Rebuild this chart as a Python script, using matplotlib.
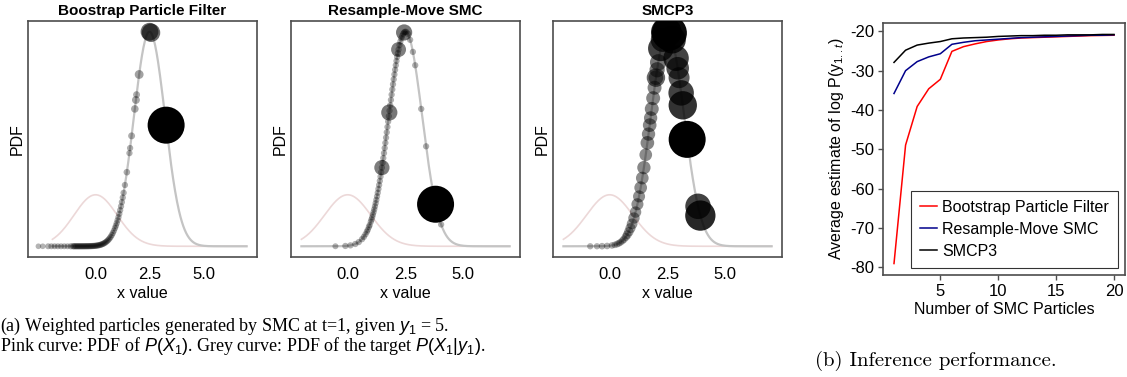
import numpy as np
import matplotlib.pyplot as plt

plt.rcParams['font.family'] = ['Liberation Sans', 'DejaVu Sans']
plt.rcParams['axes.unicode_minus'] = False
plt.rcParams['mathtext.fontset'] = 'custom'
plt.rcParams['mathtext.rm'] = 'Liberation Sans'
plt.rcParams['mathtext.it'] = 'Liberation Sans:italic'

# pdf curves: prior P(X1) (pink) and target P(X1|y1) (grey), peak heights relative
prior_mean, prior_sd, prior_peak = 0.0, 1.0, 0.24
target_mean, target_sd, target_peak = 2.5, 0.72, 1.0
curve_lo, curve_hi = -2.0, 7.0

titles = ['Boostrap Particle Filter', 'Resample-Move SMC', 'SMCP3']

# particle positions and (normalised) weights
boot_x = [-2.65, -2.45, -2.2, -2.05, -1.9, -1.75, -1.6, -1.45, -1.3, -1.15,
          -1.05, -1.0, -0.95, -0.9, -0.85, -0.8, -0.75, -0.7, -0.65, -0.6,
          -0.55, -0.5, -0.45, -0.4, -0.35, -0.3, -0.25, -0.2, -0.15, -0.1,
          -0.05, 0.0, 0.05, 0.1, 0.15, 0.2, 0.25, 0.3, 0.35, 0.4,
          0.45, 0.5, 0.55, 0.6, 0.65, 0.7, 0.75, 0.8, 0.85, 0.9,
          0.94, 0.98, 1.02, 1.06, 1.1, 1.14, 1.18, 1.22, 1.26, 1.3,
          1.36, 1.45, 1.57, 1.6, 1.67, 1.82, 1.87, 1.9, 2.02, 2.5,
          2.57, 3.27]
boot_w = [0.02, 0.02, 0.03, 0.03, 0.03, 0.03, 0.03, 0.03, 0.03, 0.04,
          0.04, 0.04, 0.04, 0.04, 0.04, 0.04, 0.04, 0.04, 0.04, 0.04,
          0.04, 0.04, 0.04, 0.04, 0.04, 0.04, 0.04, 0.04, 0.04, 0.04,
          0.04, 0.04, 0.04, 0.04, 0.04, 0.04, 0.04, 0.04, 0.04, 0.04,
          0.04, 0.04, 0.04, 0.04, 0.04, 0.04, 0.04, 0.04, 0.04, 0.04,
          0.04, 0.04, 0.04, 0.04, 0.04, 0.04, 0.04, 0.04, 0.04, 0.04,
          0.04, 0.05, 0.04, 0.04, 0.06, 0.08, 0.09, 0.06, 0.12, 0.4,
          0.42, 1.0]

rm_x = [-0.53, -0.1, 0.12, 0.33, 0.48, 0.62, 0.7, 0.77, 0.83, 0.87,
        0.92, 0.95, 1.0, 1.03, 1.06, 1.09, 1.12, 1.15, 1.18, 1.21,
        1.24, 1.27, 1.3, 1.33, 1.36, 1.39, 1.42, 1.45, 1.48, 1.51,
        1.54, 1.57, 1.6, 1.63, 1.66, 1.69, 1.72, 1.75, 1.78, 1.81,
        1.84, 1.87, 1.9, 1.93, 1.96, 1.99, 2.02, 2.05, 2.08, 2.11,
        2.14, 2.17, 2.2, 2.24, 2.28, 2.32, 2.36, 2.4, 2.44, 2.48,
        2.53, 2.6, 2.7, 2.82, 2.92, 3.18, 3.39, 4.04, 1.48, 1.8,
        2.2, 2.44, 3.8]
rm_w = [0.03, 0.04, 0.04, 0.04, 0.04, 0.04, 0.04, 0.04, 0.04, 0.04,
        0.04, 0.04, 0.04, 0.04, 0.04, 0.04, 0.04, 0.04, 0.04, 0.04,
        0.04, 0.04, 0.04, 0.04, 0.04, 0.04, 0.04, 0.04, 0.04, 0.04,
        0.04, 0.04, 0.04, 0.04, 0.04, 0.04, 0.04, 0.04, 0.04, 0.04,
        0.04, 0.04, 0.04, 0.04, 0.04, 0.04, 0.04, 0.04, 0.04, 0.04,
        0.04, 0.04, 0.04, 0.04, 0.04, 0.04, 0.04, 0.04, 0.04, 0.04,
        0.04, 0.04, 0.04, 0.04, 0.04, 0.04, 0.04, 0.04, 0.32, 0.35,
        0.31, 0.35, 1.0]

smc_x = [-0.84, -0.55, -0.33, -0.11, 0.1, 0.22, 0.32, 0.4, 0.47, 0.55,
         0.62, 0.7, 0.76, 0.83, 0.9, 0.97, 1.05, 1.12, 1.2, 1.27,
         1.34, 1.41, 1.48, 1.56, 1.63, 1.68, 1.73, 1.77, 1.82, 1.88,
         1.94, 2.0, 2.05, 2.1, 2.0, 2.21, 2.3, 2.45, 2.58, 2.7,
         2.87, 2.94, 3.0, 3.09, 3.16, 3.35, 3.82, 3.92]
smc_w = [0.04, 0.04, 0.05, 0.05, 0.05, 0.05, 0.06, 0.06, 0.06, 0.07,
         0.08, 0.1, 0.12, 0.14, 0.16, 0.18, 0.2, 0.2, 0.22, 0.22,
         0.24, 0.24, 0.26, 0.24, 0.27, 0.26, 0.27, 0.26, 0.28, 0.28,
         0.28, 0.3, 0.32, 0.36, 0.42, 0.64, 0.6, 0.8, 0.94, 0.7,
         0.64, 0.55, 0.5, 0.64, 0.73, 1.0, 0.64, 0.79]

particles = [(boot_x, boot_w), (rm_x, rm_w), (smc_x, smc_w)]

# inference performance
n_particles = list(range(1, 21))
bpf_logp = [-79.0, -48.9, -39.1, -34.6, -32.2, -25.1, -23.9, -23.2, -22.6, -22.2,
            -21.9, -21.7, -21.6, -21.5, -21.4, -21.3, -21.2, -21.1, -21.05, -21.0]
rm_logp = [-35.8, -30.0, -27.7, -26.5, -25.7, -23.3, -22.8, -22.4, -22.2, -22.0,
           -21.8, -21.6, -21.5, -21.4, -21.3, -21.2, -21.1, -21.0, -21.0, -20.9]
smcp3_logp = [-27.9, -24.8, -23.5, -23.0, -22.6, -21.9, -21.7, -21.6, -21.5, -21.3,
              -21.2, -21.1, -21.1, -21.0, -21.0, -20.9, -20.9, -20.9, -20.8, -20.8]


def bell(x, mean, sd, peak):
    return peak * np.exp(-0.5 * ((x - mean) / sd) ** 2)


W, H = 1127, 377
fig = plt.figure(figsize=(W / 100, H / 100), dpi=100)
spine_col = '#4d4d4d'

lefts = [28, 291, 553]
xs = np.linspace(curve_lo, curve_hi, 400)
for i in range(3):
    ax = fig.add_axes([lefts[i] / W, 1 - 257 / H, 229 / W, 236 / H])
    ax.plot(xs, bell(xs, prior_mean, prior_sd, prior_peak), color='#ecd8d8', lw=1.2, zorder=1)
    ax.plot(xs, bell(xs, target_mean, target_sd, target_peak), color='#c4c4c4', lw=1.6, zorder=2)
    px = np.array(particles[i][0])
    pw = np.array(particles[i][1])
    py = bell(px, target_mean, target_sd, target_peak)
    diam = 5 + 32 * pw
    cols = np.zeros((len(pw), 4))
    cols[:, 3] = np.clip(0.28 + 0.72 * pw, 0, 1)
    ax.scatter(px, py, s=(diam * 0.72) ** 2, c=cols, linewidths=0, zorder=3)
    ax.margins(0.05)
    ax.set_yticks([])
    ax.set_xticks([0, 2.5, 5.0])
    ax.set_xticklabels(['0.0', '2.5', '5.0'])
    ax.tick_params(axis='x', length=0, pad=7, labelsize=12)
    ax.set_xlabel('x value', fontsize=11.5, labelpad=3)
    ax.set_ylabel('PDF', fontsize=11.5, labelpad=2)
    ax.set_title(titles[i], fontsize=11, fontweight='bold', pad=4)
    for sp in ax.spines.values():
        sp.set_color(spine_col)
        sp.set_linewidth(1.2)

# right panel
ax = fig.add_axes([883 / W, 1 - 275 / H, 242 / W, 252 / H])
ax.plot(n_particles, bpf_logp, color='red', lw=1.1, label='Bootstrap Particle Filter')
ax.plot(n_particles, rm_logp, color='#00008b', lw=1.1, label='Resample-Move SMC')
ax.plot(n_particles, smcp3_logp, color='black', lw=1.1, label='SMCP3')
ax.margins(0.05)
ax.set_xticks([5, 10, 15, 20])
ax.set_yticks([-20, -30, -40, -50, -60, -70, -80])
ax.tick_params(direction='out', length=3.5, width=1, color=spine_col, labelsize=12, pad=3)
ax.set_xlabel('Number of SMC Particles', fontsize=11.5, labelpad=2)
ax.set_ylabel(r'Average estimate of log P(y$_{1..t}$)', fontsize=11.5, labelpad=3)
for sp in ax.spines.values():
    sp.set_color(spine_col)
    sp.set_linewidth(1.2)
leg = ax.legend(loc='lower right', fontsize=11.5, frameon=True, fancybox=False,
                handlelength=1.1, handletextpad=0.3, labelspacing=0.45,
                borderpad=0.55, borderaxespad=0.45)
leg.get_frame().set_edgecolor('black')
leg.get_frame().set_linewidth(0.8)

# captions
caption_a = ('(a) Weighted particles generated by SMC at t=1, given $y_1$ = 5.\n'
             'Pink curve: PDF of $P(X_1)$. Grey curve: PDF of the target $P(X_1|y_1)$.')
fig.text(0.0, 1 - 357 / H, caption_a, family='Liberation Serif', fontsize=13,
         va='bottom', linespacing=0.9)
fig.text(815 / W, 1 - 366 / H, '(b) Inference performance.',
         family='cmr10', fontsize=15, va='baseline')

fig.savefig('out.png', dpi=100)
